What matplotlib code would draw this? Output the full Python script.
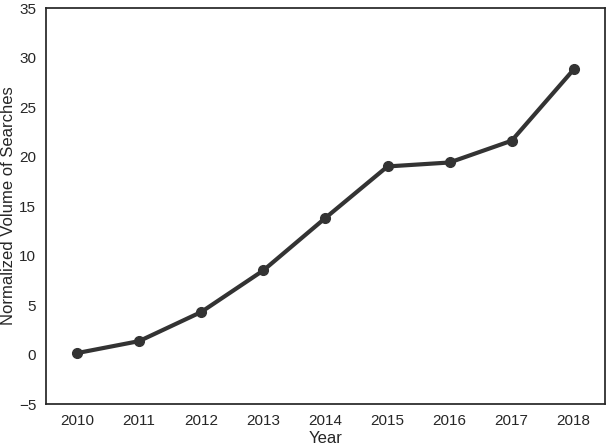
import matplotlib
matplotlib.use("Agg")
import matplotlib.pyplot as plt
import seaborn as sns

years = ["2010", "2011", "2012", "2013", "2014", "2015", "2016", "2017", "2018"]
volume = [0.15, 1.36, 4.3, 8.5, 13.8, 19.0, 19.4, 21.6, 28.8]

sns.set_style("white")
plt.rcParams['font.family'] = ['Liberation Sans', 'DejaVu Sans']
plt.rcParams['axes.edgecolor'] = '#262626'

fig = plt.figure(figsize=(6.06, 4.46), dpi=100)
ax = fig.add_axes([0.076, 0.094, 0.922, 0.888])
x = list(range(len(years)))
ax.plot(x, volume, color='#333333', lw=3, marker='o', ms=7, solid_capstyle='round')
ax.set_xlim(-0.5, len(years) - 0.5)
ax.set_xticks(x)
ax.set_xticklabels(years)
ax.set_ylim(-5, 35)
ax.set_yticks(range(-5, 36, 5))
ax.tick_params(labelsize=11, colors='#262626', length=0, pad=7)
ax.set_xlabel("Year", fontsize=12, color='#262626', labelpad=2)
ax.set_ylabel("Normalized Volume of Searches", fontsize=12, color='#262626')
ax.yaxis.set_label_coords(-0.054, 0.5)
for s in ax.spines.values():
    s.set_linewidth(1.25)
fig.savefig("out.png", dpi=100)
